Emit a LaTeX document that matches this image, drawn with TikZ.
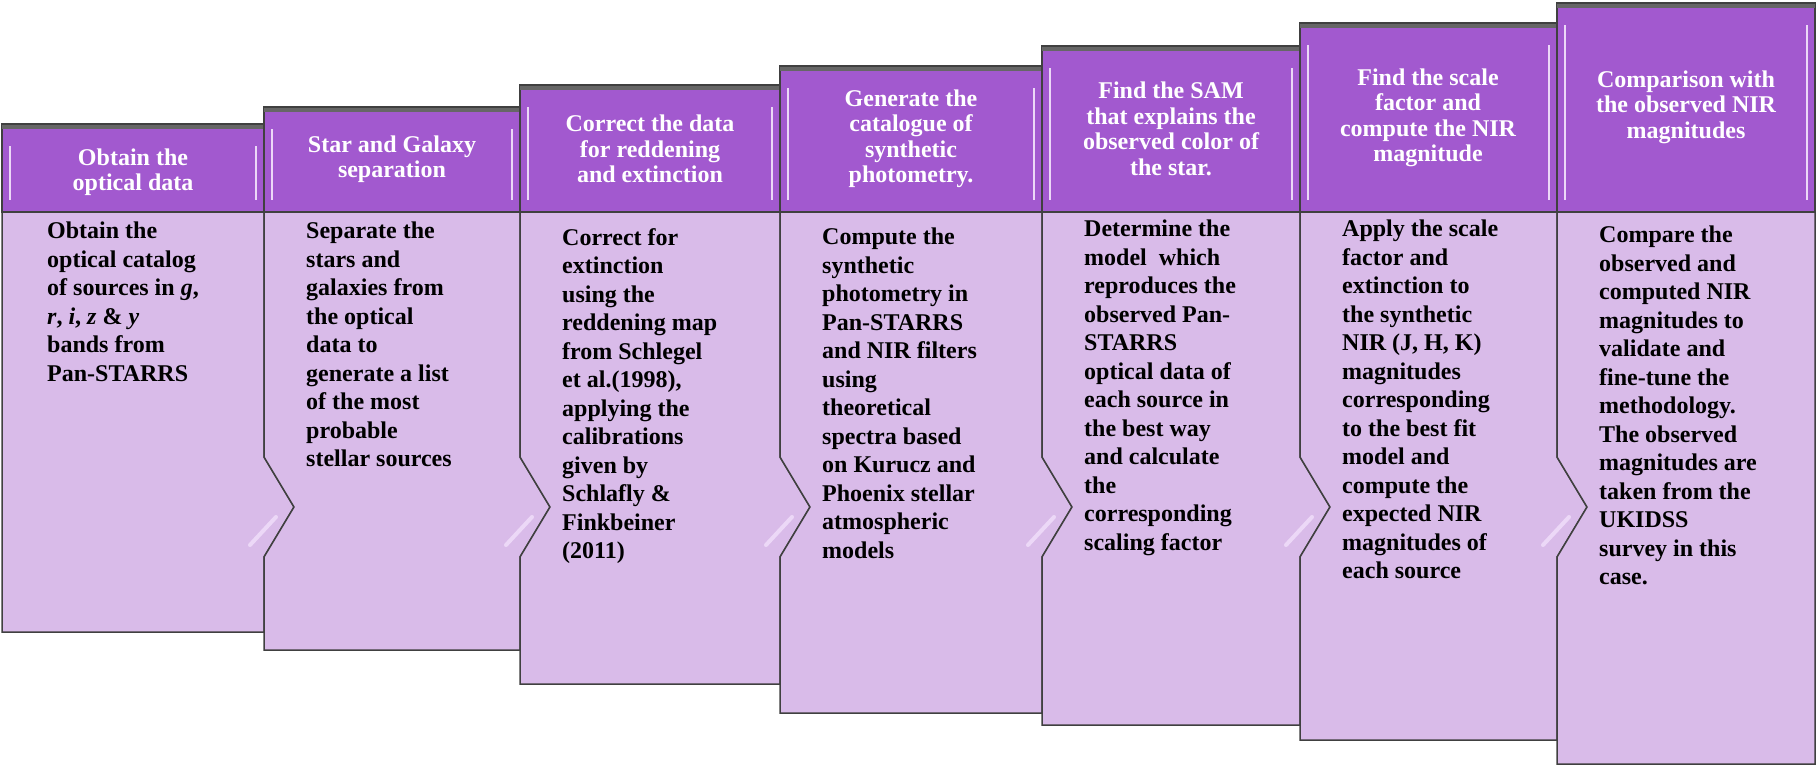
\documentclass[tikz,border=0pt]{standalone}
\usepackage{fontspec}
\setmainfont{Liberation Serif}[BoldFont={Liberation Serif Bold},ItalicFont={Liberation Serif Italic},BoldItalicFont={Liberation Serif Bold Italic}]
\begin{document}
\begin{tikzpicture}[x=1pt,y=-1pt,
  hdr/.style={fill=hpurple,draw=black!75,line width=1.5pt},
  bdy/.style={fill=blav,draw=black!75,line width=1.5pt},
  htxt/.style={text=white,font=\bfseries\fontsize{24}{25.5}\selectfont,align=center,anchor=center,inner sep=0pt},
  btxt/.style={text=black,font=\bfseries\fontsize{24}{28.5}\selectfont,align=left,anchor=north west,inner sep=0pt}]
\definecolor{hpurple}{HTML}{A259CF}
\definecolor{blav}{HTML}{D9BBE9}
\definecolor{hl}{HTML}{ECD8F7}
\useasboundingbox (0,0) rectangle (1817,766);
\def\hb{212}
\foreach \L/\R/\T/\B/\n in {2/264/124/632/1,264/520/107/650/2,520/780/85/684/3,780/1042/66/713/4,1042/1300/46/725/5,1300/1557/23/740/6,1557/1815/3/764/7}{
  \ifnum\n=1
    \filldraw[bdy] (\L,\hb) -- (\R,\hb) -- (\R,457) -- ({\R+30},507) -- (\R,557) -- (\R,\B) -- (\L,\B) -- cycle;
  \else\ifnum\n=7
    \filldraw[bdy] (\L,\hb) -- (\R,\hb) -- (\R,\B) -- (\L,\B) -- (\L,557) -- ({\L+30},507) -- (\L,457) -- cycle;
  \else
    \filldraw[bdy] (\L,\hb) -- (\R,\hb) -- (\R,457) -- ({\R+30},507) -- (\R,557) -- (\R,\B) -- (\L,\B) -- (\L,557) -- ({\L+30},507) -- (\L,457) -- cycle;
  \fi\fi
  \ifnum\n>1
    \draw[hl,line width=4pt,line cap=round] ({\L-14},{557-12}) -- ({\L+12},{507+10});
  \fi
  \filldraw[hdr] (\L,\T) rectangle (\R,\hb);
  \draw[black!60,line width=4pt] (\L,{\T+3}) -- (\R,{\T+3});
  \draw[hl,line width=2.5pt] ({\L+8},{\T+22}) -- ({\L+8},{\hb-12});
  \draw[hl,line width=2.5pt] ({\R-8},{\T+22}) -- ({\R-8},{\hb-12});
}
\node[htxt] (h1) at (133,172) {Obtain the\\optical data};
\node[htxt] (h2) at (392,159) {Star and Galaxy\\separation};
\node[htxt] (h3) at (650,149) {Correct the data\\for reddening\\and extinction};
\node[htxt] (h4) at (911,139) {Generate the\\catalogue of\\synthetic\\photometry.};
\node[htxt] (h5) at (1171,129) {Find the SAM\\that explains the\\observed color of\\the star.};
\node[htxt] (h6) at (1428,118) {Find the scale\\factor and\\compute the NIR\\magnitude};
\node[htxt] (h7) at (1686,107) {Comparison with\\the observed NIR\\magnitudes};
\node[btxt] (b1) at (47,222) {Obtain the\\optical catalog\\of sources in \textit{g},\\\textit{r}, \textit{i}, \textit{z} \& \textit{y}\\bands from\\Pan-STARRS};
\node[btxt] (b2) at (306,222) {Separate the\\stars and\\galaxies from\\the optical\\data to\\generate a list\\of the most\\probable\\stellar sources};
\node[btxt] (b3) at (562,228) {Correct for\\extinction\\using the\\reddening map\\from Schlegel\\et al.(1998),\\applying the\\calibrations\\given by\\Schlafly \&\\Finkbeiner\\(2011)};
\node[btxt] (b4) at (822,228) {Compute the\\synthetic\\photometry in\\Pan-STARRS\\and NIR filters\\using\\theoretical\\spectra based\\on Kurucz and\\Phoenix stellar\\atmospheric\\models};
\node[btxt] (b5) at (1084,220) {Determine the\\model \ which\\reproduces the\\observed Pan-\\STARRS\\optical data of\\each source in\\the best way\\and calculate\\the\\corresponding\\scaling factor};
\node[btxt] (b6) at (1342,220) {Apply the scale\\factor and\\extinction to\\the synthetic\\NIR (J, H, K)\\magnitudes\\corresponding\\to the best fit\\model and\\compute the\\expected NIR\\magnitudes of\\each source};
\node[btxt] (b7) at (1599,226) {Compare the\\observed and\\computed NIR\\magnitudes to\\validate and\\fine-tune the\\methodology.\\The observed\\magnitudes are\\taken from the\\UKIDSS\\survey in this\\case.};
\end{tikzpicture}
\end{document}
